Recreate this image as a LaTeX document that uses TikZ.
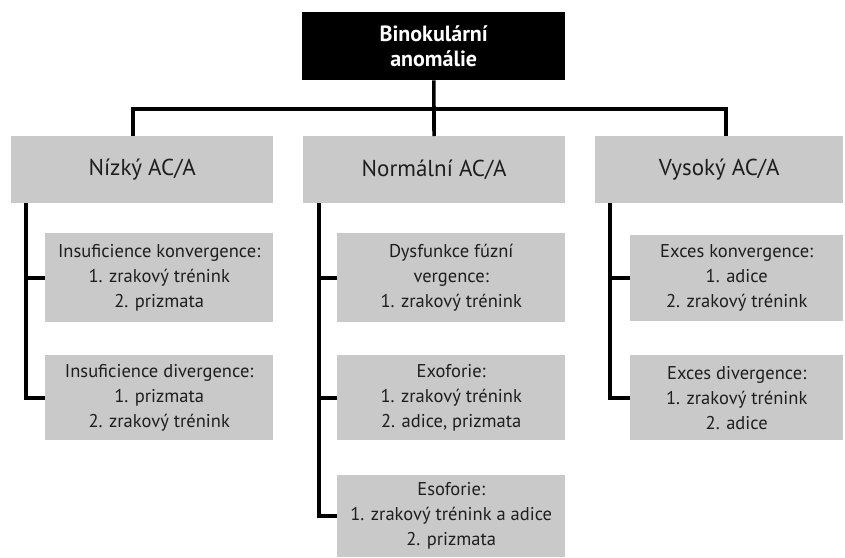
\documentclass[tikz,border=0pt]{standalone}
\usepackage{fontspec}
\setmainfont{PT Sans}
\usepackage{xcolor}
\usepackage{tikz}
\usetikzlibrary{positioning,calc}

\definecolor{boxgray}{RGB}{201,201,201}
\definecolor{inkgray}{RGB}{30,30,30}

\begin{document}
\begin{tikzpicture}[
x=1pt, y=-1pt,
rootbox/.style={rectangle, fill=black, text=white, anchor=north west, inner sep=0pt, align=center,
  font=\fontsize{22}{25}\selectfont\bfseries, minimum width=263pt, minimum height=68pt},
catbox/.style={rectangle, fill=boxgray, text=inkgray, anchor=north west, inner sep=0pt, align=center,
  font=\fontsize{23}{26}\selectfont, minimum height=67pt},
subbox/.style={rectangle, fill=boxgray, text=inkgray, anchor=north west, inner sep=0pt, align=center,
  font=\fontsize{18.5}{25}\selectfont},
link/.style={line width=3.6pt, black}
]
\useasboundingbox (0,0) rectangle (845,557);

% --- ROOT ---
\node[rootbox] (root) at (302,12) {Binokulární\\anomálie};

% --- AC/A GROUPS ---
\node[catbox, minimum width=262pt] (nizky) at (11,136) {Nízký AC/A};
\node[catbox, minimum width=262pt] (normal) at (303,136) {Normální AC/A};
\node[catbox, minimum width=248pt] (vysoky) at (595,136) {Vysoký AC/A};

% --- LOW AC/A ---
\node[subbox, minimum width=228pt, minimum height=89pt] (insufkonv) at (45,233)
  {Insuficience konvergence:\\1. zrakový trénink\\2. prizmata};
\node[subbox, minimum width=228pt, minimum height=85pt] (insufdiv) at (45,355)
  {Insuficience divergence:\\1. prizmata\\2. zrakový trénink};

% --- NORMAL AC/A ---
\node[subbox, minimum width=228pt, minimum height=89pt] (fuzni) at (337,233)
  {Dysfunkce fúzní\\vergence:\\1. zrakový trénink};
\node[subbox, minimum width=228pt, minimum height=85pt] (exo) at (337,355)
  {Exoforie:\\1. zrakový trénink\\2. adice, prizmata};
\node[subbox, minimum width=228pt, minimum height=82pt] (eso) at (337,475)
  {Esoforie:\\1. zrakový trénink a adice\\2. prizmata};

% --- HIGH AC/A ---
\node[subbox, minimum width=213pt, minimum height=86pt] (exkonv) at (630,235)
  {Exces konvergence:\\1. adice\\2. zrakový trénink};
\node[subbox, minimum width=213pt, minimum height=85pt] (exdiv) at (630,355)
  {Exces divergence:\\1. zrakový trénink\\2. adice};

% --- TREE LINKS ---
\coordinate (busL) at (133,109);
\coordinate (busR) at (726,109);
\coordinate (spineL) at (26,203);
\coordinate (spineM) at (319,203);
\coordinate (spineR) at (610,203);

\draw[link] (root) -- (normal);
\draw[link] (nizky.north -| busL) -- (busL) -- (busR) -- (vysoky.north -| busR);
\draw[link] (spineL) |- (insufkonv.west);
\draw[link] (spineL) |- (insufdiv.west);
\draw[link] (spineM) |- (fuzni.west);
\draw[link] (spineM) |- (exo.west);
\draw[link] (spineM) |- (eso.west);
\draw[link] (spineR) |- (exkonv.west);
\draw[link] (spineR) |- (exdiv.west);

\end{tikzpicture}
\end{document}
